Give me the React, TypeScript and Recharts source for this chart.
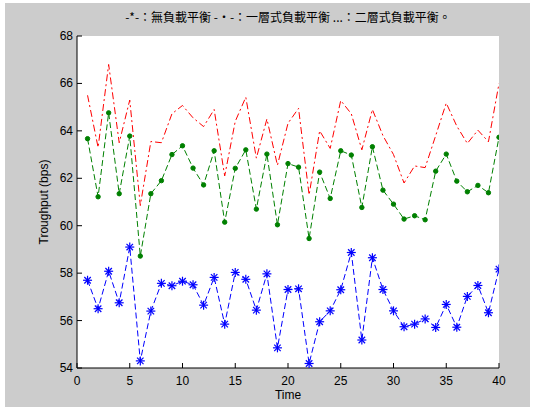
import React from 'react';
import { LineChart, Line, XAxis, YAxis, ReferenceArea } from 'recharts';

const time = [1, 2, 3, 4, 5, 6, 7, 8, 9, 10, 11, 12, 13, 14, 15, 16, 17, 18, 19, 20, 21, 22, 23, 24, 25, 26, 27, 28, 29, 30, 31, 32, 33, 34, 35, 36, 37, 38, 39, 40];

// -*- : 無負載平衡 (blue, star markers)
const noBalance = [57.7, 56.5, 58.08, 56.75, 59.1, 54.3, 56.4, 57.57, 57.47, 57.66, 57.51, 56.65, 57.82, 55.85, 58.03, 57.74, 56.44, 57.97, 54.85, 57.31, 57.34, 54.19, 55.95, 56.41, 57.3, 58.87, 55.18, 58.65, 57.31, 56.41, 55.74, 55.85, 56.07, 55.71, 56.68, 55.72, 57.02, 57.48, 56.33, 58.17];

// -·- : 一層式負載平衡 (green, dot markers)
const oneLayer = [63.67, 61.22, 64.76, 61.35, 63.78, 58.72, 61.35, 61.9, 63.0, 63.37, 62.43, 61.72, 63.16, 60.15, 62.42, 63.2, 60.7, 63.02, 60.04, 62.62, 62.47, 59.46, 62.26, 61.15, 63.16, 62.98, 60.77, 63.33, 61.5, 60.91, 60.28, 60.42, 60.25, 62.3, 63.02, 61.88, 61.43, 61.7, 61.39, 63.73];

// ... : 二層式負載平衡 (red, dash-dot)
const twoLayer = [65.5, 63.3, 66.8, 63.5, 65.3, 60.85, 63.55, 63.5, 64.72, 65.07, 64.55, 64.18, 64.9, 62.1, 64.4, 65.42, 62.85, 64.5, 62.55, 64.32, 64.95, 61.3, 64.0, 63.26, 65.28, 64.72, 63.2, 64.9, 63.8, 63.0, 61.8, 62.52, 62.45, 63.8, 65.17, 64.2, 63.47, 64.03, 63.54, 66.0];

const xTicks = [0, 5, 10, 15, 20, 25, 30, 35, 40];
const yTicks = [54, 56, 58, 60, 62, 64, 66, 68];

const titleText = '-*-：無負載平衡 -·-：一層式負載平衡 ...：二層式負載平衡。';

const data = time.map((t, i) => ({
  t,
  noBalance: noBalance[i],
  oneLayer: oneLayer[i],
  twoLayer: twoLayer[i],
}));

const FONT = '"Liberation Sans", Arial, sans-serif';

const BottomTick = (props: any) => {
  const { x, y, payload } = props;
  return (
    <g>
      <line x1={x} x2={x} y1={y} y2={y - 5} stroke="#000" strokeWidth={1} />
      <text x={x} y={y + 17} textAnchor="middle" fontSize={12} fontFamily={FONT} fill="#000">
        {payload.value}
      </text>
    </g>
  );
};

const TopTick = (props: any) => {
  const { x, y } = props;
  return <line x1={x} x2={x} y1={y} y2={y + 5} stroke="#000" strokeWidth={1} />;
};

const LeftTick = (props: any) => {
  const { x, y, payload } = props;
  return (
    <g>
      <line x1={x} x2={x + 5} y1={y} y2={y} stroke="#000" strokeWidth={1} />
      <text x={x - 4} y={y + 4} textAnchor="end" fontSize={12} fontFamily={FONT} fill="#000">
        {payload.value}
      </text>
    </g>
  );
};

const RightTick = (props: any) => {
  const { x, y } = props;
  return <line x1={x} x2={x - 5} y1={y} y2={y} stroke="#000" strokeWidth={1} />;
};

const StarDot = (props: any) => {
  const { cx, cy, index } = props;
  if (cx == null || cy == null) return <g key={index} />;
  const r = 4.5;
  const d = r * 0.72;
  return (
    <g key={index} stroke="#0000ff" strokeWidth={1.2}>
      <line x1={cx - r} x2={cx + r} y1={cy} y2={cy} />
      <line x1={cx} x2={cx} y1={cy - r} y2={cy + r} />
      <line x1={cx - d} x2={cx + d} y1={cy - d} y2={cy + d} />
      <line x1={cx - d} x2={cx + d} y1={cy + d} y2={cy - d} />
    </g>
  );
};

export default function App() {
  return (
    <div style={{ position: 'absolute', left: 0, top: 0, width: 543, height: 412, background: '#ffffff' }}>
      <div style={{ position: 'absolute', left: 5, top: 3, width: 525, height: 404, background: '#cccccc' }} />
      <div
        style={{
          position: 'absolute',
          left: 77,
          width: 422,
          top: 9,
          textAlign: 'center',
          fontFamily: '"Noto Sans CJK TC", "Liberation Sans", sans-serif',
          fontSize: 12,
          lineHeight: '16px',
          color: '#000',
          whiteSpace: 'nowrap',
        }}
      >
        {titleText}
      </div>
      <div
        style={{
          position: 'absolute',
          left: 77,
          width: 422,
          top: 388,
          textAlign: 'center',
          fontFamily: FONT,
          fontSize: 12,
          lineHeight: '14px',
          color: '#000',
        }}
      >
        Time
      </div>
      <div
        style={{
          position: 'absolute',
          left: 44 - 100,
          top: 202 - 7,
          width: 200,
          height: 14,
          textAlign: 'center',
          fontFamily: FONT,
          fontSize: 12,
          lineHeight: '14px',
          color: '#000',
          transform: 'rotate(-90deg)',
          transformOrigin: '100px 7px',
        }}
      >
        Troughput (bps)
      </div>
      <div style={{ position: 'absolute', left: 0, top: 0 }}>
        <LineChart width={543} height={412} data={data} margin={{ top: 36, right: 44, bottom: 14, left: 37 }}>
          <XAxis
            dataKey="t"
            type="number"
            domain={[0, 40]}
            ticks={xTicks}
            interval={0}
            height={30}
            tickSize={0}
            tickMargin={0}
            tickLine={false}
            axisLine={{ stroke: '#000' }}
            tick={<BottomTick />}
            allowDataOverflow
          />
          <XAxis
            xAxisId="top"
            orientation="top"
            dataKey="t"
            type="number"
            domain={[0, 40]}
            ticks={xTicks}
            interval={0}
            height={0}
            tickSize={0}
            tickMargin={0}
            tickLine={false}
            axisLine={{ stroke: '#000' }}
            tick={<TopTick />}
            allowDataOverflow
          />
          <YAxis
            type="number"
            domain={[54, 68]}
            ticks={yTicks}
            interval={0}
            width={40}
            tickSize={0}
            tickMargin={0}
            tickLine={false}
            axisLine={{ stroke: '#000' }}
            tick={<LeftTick />}
            allowDataOverflow
          />
          <YAxis
            yAxisId="right"
            orientation="right"
            type="number"
            domain={[54, 68]}
            ticks={yTicks}
            interval={0}
            width={0}
            tickSize={0}
            tickMargin={0}
            tickLine={false}
            axisLine={{ stroke: '#000' }}
            tick={<RightTick />}
            allowDataOverflow
          />
          <ReferenceArea x1={0} x2={40} y1={54} y2={68} fill="#ffffff" fillOpacity={1} stroke="none" />
          <Line
            dataKey="twoLayer"
            stroke="#ff0000"
            strokeWidth={1}
            strokeDasharray="7 3 2 3"
            dot={false}
            activeDot={false}
            isAnimationActive={false}
          />
          <Line
            dataKey="oneLayer"
            stroke="#008000"
            strokeWidth={1}
            strokeDasharray="6 3"
            dot={{ r: 2.2, fill: '#008000', stroke: '#008000', strokeWidth: 1, strokeDasharray: '' }}
            activeDot={false}
            isAnimationActive={false}
          />
          <Line
            dataKey="noBalance"
            stroke="#0000ff"
            strokeWidth={1}
            strokeDasharray="6 3"
            dot={<StarDot />}
            activeDot={false}
            isAnimationActive={false}
          />
        </LineChart>
      </div>
    </div>
  );
}
